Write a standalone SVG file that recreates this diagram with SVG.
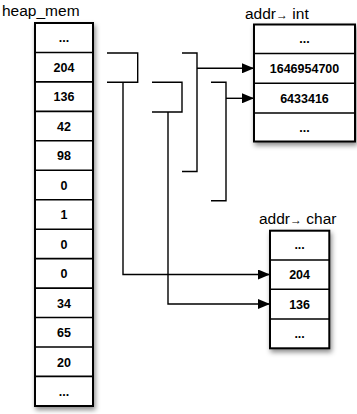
<svg xmlns="http://www.w3.org/2000/svg" width="357" height="414" viewBox="0 0 357 414">
<defs>
<filter id="sh" x="-30%" y="-10%" width="160%" height="125%">
<feDropShadow dx="1.5" dy="3" stdDeviation="2.8" flood-color="#000" flood-opacity="0.45"/>
</filter>
<marker id="ah" markerWidth="12" markerHeight="10" refX="12" refY="5" orient="auto" markerUnits="userSpaceOnUse">
<path d="M0,0 L12,5 L0,10 Z" fill="#000"/>
</marker>
</defs>
<style>
.box{fill:#fff;stroke:#000;stroke-width:2;}
.div{stroke:#000;stroke-width:1.6;}
.lbl{font-family:"Liberation Sans",Arial,sans-serif;font-size:15.5px;fill:#000;}
.cell{font-family:"Liberation Sans",Arial,sans-serif;font-size:12.5px;font-weight:bold;fill:#000;text-anchor:middle;}
.con{fill:none;stroke:#000;stroke-width:1.4;}
</style>

<g id="heap_mem">
<text class="lbl" x="2" y="16">heap_mem</text>
<rect class="box" x="35" y="23" width="58" height="383" filter="url(#sh)"/>
<g class="div">
<line x1="35" y1="52.5" x2="93" y2="52.5"/>
<line x1="35" y1="81.9" x2="93" y2="81.9"/>
<line x1="35" y1="111.4" x2="93" y2="111.4"/>
<line x1="35" y1="140.8" x2="93" y2="140.8"/>
<line x1="35" y1="170.3" x2="93" y2="170.3"/>
<line x1="35" y1="199.7" x2="93" y2="199.7"/>
<line x1="35" y1="229.2" x2="93" y2="229.2"/>
<line x1="35" y1="258.6" x2="93" y2="258.6"/>
<line x1="35" y1="288.1" x2="93" y2="288.1"/>
<line x1="35" y1="317.5" x2="93" y2="317.5"/>
<line x1="35" y1="347" x2="93" y2="347"/>
<line x1="35" y1="376.4" x2="93" y2="376.4"/>
</g>
<text class="cell" x="64" y="42">...</text>
<text class="cell" x="64" y="71.5">204</text>
<text class="cell" x="64" y="101">136</text>
<text class="cell" x="64" y="130.5">42</text>
<text class="cell" x="64" y="160">98</text>
<text class="cell" x="64" y="189.5">0</text>
<text class="cell" x="64" y="219">1</text>
<text class="cell" x="64" y="248.5">0</text>
<text class="cell" x="64" y="278">0</text>
<text class="cell" x="64" y="307.5">34</text>
<text class="cell" x="64" y="337">65</text>
<text class="cell" x="64" y="366.5">20</text>
<text class="cell" x="64" y="395.5">...</text>
</g>

<g id="addr_int">
<text class="lbl" x="245" y="19">addr<tspan font-size="12">→</tspan> int</text>
<rect class="box" x="254" y="24.5" width="101" height="117" filter="url(#sh)"/>
<g class="div">
<line x1="254" y1="53.5" x2="355" y2="53.5"/>
<line x1="254" y1="83.3" x2="355" y2="83.3"/>
<line x1="254" y1="113" x2="355" y2="113"/>
</g>
<text class="cell" x="304.5" y="43">...</text>
<text class="cell" x="304.5" y="72.5">1646954700</text>
<text class="cell" x="304.5" y="102.5">6433416</text>
<text class="cell" x="304.5" y="131.5">...</text>
</g>

<g id="addr_char">
<text class="lbl" x="259" y="224">addr<tspan font-size="12">→</tspan> char</text>
<rect class="box" x="270" y="230.7" width="59.3" height="117.6" filter="url(#sh)"/>
<g class="div">
<line x1="270" y1="260" x2="329.3" y2="260"/>
<line x1="270" y1="289.3" x2="329.3" y2="289.3"/>
<line x1="270" y1="319" x2="329.3" y2="319"/>
</g>
<text class="cell" x="299.6" y="249">...</text>
<text class="cell" x="299.6" y="279">204</text>
<text class="cell" x="299.6" y="308.5">136</text>
<text class="cell" x="299.6" y="338">...</text>
</g>

<g id="connectors">
<path class="con" d="M107,53 H137.7 V82.3 H107"/>
<path class="con" d="M152,82.3 H182 V112 H152"/>
<path class="con" d="M182,53 H197 V171.5 H182"/>
<path class="con" d="M211,82.3 H226 V200.7 H211"/>
<path class="con" d="M123,82.3 V274.5 H270" marker-end="url(#ah)"/>
<path class="con" d="M168,112 V304 H270" marker-end="url(#ah)"/>
<path class="con" d="M197,68.3 H254" marker-end="url(#ah)"/>
<path class="con" d="M226,98.3 H254" marker-end="url(#ah)"/>
</g>
</svg>
